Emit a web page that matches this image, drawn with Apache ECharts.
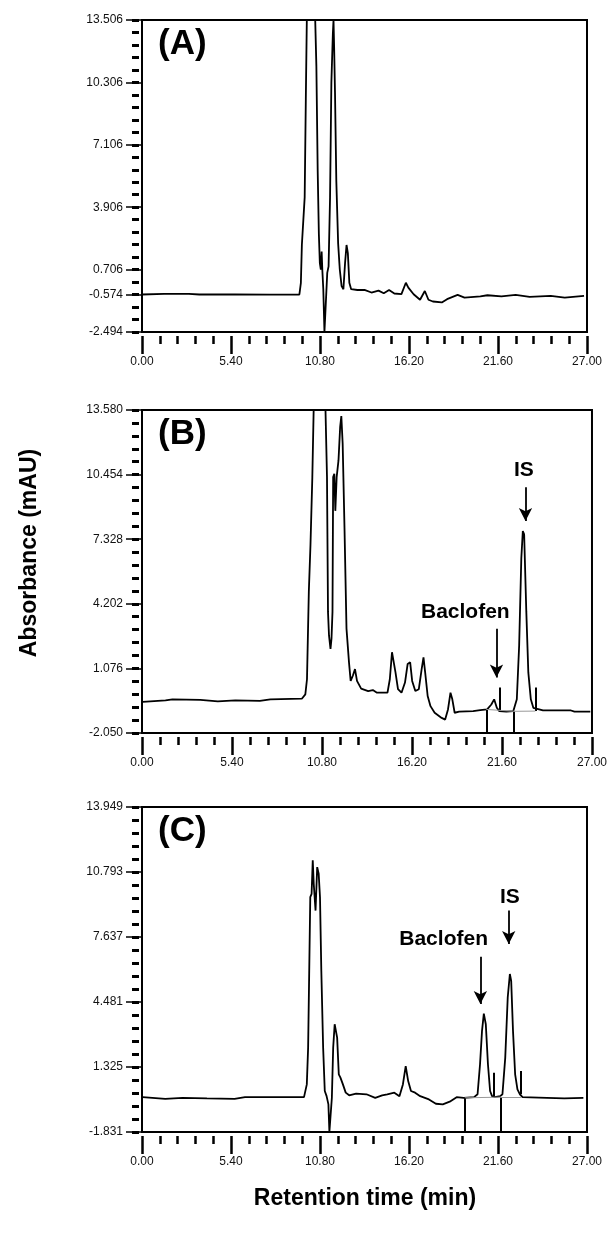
<!DOCTYPE html>
<html><head><meta charset="utf-8">
<script src="https://cdn.jsdelivr.net/npm/echarts@6/dist/echarts.min.js"></script>
<style>html,body{margin:0;padding:0;background:#fff}#c{width:610px;height:1247px}</style>
</head><body><div id="c"></div>
<script>
// ---- data (retention time [min], absorbance [mAU]) ----
const traceA = [[0.00,-0.57],[1.34,-0.54],[2.84,-0.54],[3.48,-0.57],[5.61,-0.57],[7.74,-0.58],[9.55,-0.57],[9.64,0.03],[9.70,1.97],[9.81,2.05],[9.87,4.41],[9.94,9.46],[10.00,13.5],[10.51,13.5],[10.58,11.14],[10.66,5.76],[10.73,2.56],[10.79,1.04],[10.85,0.71],[10.90,1.63],[10.94,0.71],[11.00,-0.30],[11.07,-2.494],[11.17,-2.494],[11.24,0.54],[11.32,0.87],[11.41,4.41],[11.49,10.30],[11.58,12.8],[11.62,13.5],[11.66,12.0],[11.71,9.80],[11.79,5.25],[11.90,2.05],[12.00,0.71],[12.11,-0.14],[12.22,-0.30],[12.32,1.04],[12.41,1.97],[12.49,1.55],[12.58,0.03],[12.69,-0.30],[13.07,-0.34],[13.50,-0.33],[13.92,-0.47],[14.35,-0.37],[14.67,-0.51],[14.99,-0.34],[15.31,-0.52],[15.74,-0.55],[16.01,0.03],[16.16,-0.22],[16.48,-0.56],[16.87,-0.84],[17.16,-0.39],[17.38,-0.84],[17.65,-0.93],[18.19,-0.98],[18.51,-0.81],[19.15,-0.59],[19.57,-0.73],[20.53,-0.67],[20.96,-0.61],[21.81,-0.67],[22.67,-0.59],[23.52,-0.69],[24.80,-0.64],[25.65,-0.73],[26.82,-0.64]];
const traceB = [[0.04,-0.54],[1.41,-0.47],[1.83,-0.42],[3.50,-0.45],[4.55,-0.52],[5.60,-0.47],[7.07,-0.50],[7.70,-0.42],[9.59,-0.39],[9.80,-0.18],[9.90,0.55],[10.01,4.79],[10.11,7.07],[10.22,10.33],[10.30,13.58],[11.01,13.58],[11.10,10.33],[11.16,3.81],[11.22,2.67],[11.31,2.02],[11.37,2.51],[11.43,3.81],[11.47,10.33],[11.54,10.49],[11.60,8.70],[11.68,10.33],[11.79,11.14],[11.89,12.77],[11.96,13.29],[12.04,11.96],[12.15,7.88],[12.27,3.00],[12.42,1.37],[12.52,0.47],[12.65,0.72],[12.78,1.04],[12.90,0.47],[13.15,0.10],[13.57,-0.02],[13.85,0.03],[14.10,-0.10],[14.73,-0.10],[14.87,0.55],[15.00,1.86],[15.08,1.78],[15.21,0.88],[15.36,0.07],[15.57,-0.10],[15.78,0.39],[15.94,1.29],[16.09,1.37],[16.21,0.47],[16.40,-0.02],[16.61,0.07],[16.78,1.04],[16.89,1.61],[16.99,0.88],[17.14,-0.26],[17.31,-0.75],[17.56,-1.07],[17.98,-1.32],[18.19,-1.40],[18.36,-0.91],[18.51,-0.10],[18.62,-0.42],[18.76,-1.07],[19.03,-1.02],[19.87,-0.99],[20.29,-0.94],[20.71,-0.91],[20.96,-0.67],[21.13,-0.42],[21.29,-0.83],[21.44,-0.99],[21.86,-1.02],[22.28,-0.99],[22.49,-0.42],[22.63,2.18],[22.76,6.42],[22.85,7.72],[22.93,7.56],[23.06,3.81],[23.18,0.88],[23.33,-0.42],[23.48,-0.83],[24.06,-0.96],[25.74,-0.96],[25.95,-1.02],[26.90,-1.02]];
const traceC = [[0.04,-0.14],[1.41,-0.22],[2.46,-0.17],[3.94,-0.20],[5.62,-0.22],[6.25,-0.14],[7.73,-0.14],[9.83,-0.14],[10.00,0.48],[10.08,2.27],[10.21,9.57],[10.29,9.73],[10.36,11.36],[10.42,10.22],[10.53,8.92],[10.63,11.03],[10.72,10.71],[10.80,9.57],[10.88,6.00],[10.99,2.27],[11.09,0.16],[11.20,-0.09],[11.31,-0.49],[11.37,-1.831],[11.43,-1.831],[11.52,-0.17],[11.60,2.27],[11.69,3.40],[11.75,3.48],[11.84,2.75],[11.94,0.97],[12.04,0.81],[12.19,0.48],[12.36,0.08],[12.57,-0.05],[12.99,0.03],[13.62,0.00],[14.15,-0.17],[14.57,-0.05],[14.88,0.00],[15.31,0.08],[15.62,-0.09],[15.83,0.48],[16.00,1.37],[16.15,0.64],[16.32,0.16],[16.57,0.08],[16.88,-0.09],[17.41,-0.25],[17.83,-0.46],[18.25,-0.49],[18.67,-0.36],[19.09,-0.14],[19.52,-0.17],[20.15,-0.14],[20.36,0.00],[20.51,1.46],[20.63,3.08],[20.74,3.92],[20.86,3.40],[20.99,1.46],[21.12,0.16],[21.24,-0.09],[21.41,-0.14],[21.73,-0.09],[21.87,0.00],[22.04,1.78],[22.19,4.70],[22.32,5.84],[22.40,5.51],[22.51,3.08],[22.64,0.97],[22.78,0.24],[22.93,0.00],[23.09,-0.14],[24.57,-0.17],[25.62,-0.20],[26.78,-0.17]];

// y tick labels of each panel
const yLabelsA = [13.506, 10.306, 7.106, 3.906, 0.706, -0.574, -2.494];
const yLabelsB = [13.580, 10.454, 7.328, 4.202, 1.076, -2.050];
const yLabelsC = [13.949, 10.793, 7.637, 4.481, 1.325, -1.831];
const xLabels = [0.00, 5.40, 10.80, 16.20, 21.60, 27.00];

// integration marks [time, from, to]
const intMarksB = [[20.66,-0.91,-2.05],[21.44,0.15,-0.99],[22.32,-1.00,-2.05],[23.60,0.15,-0.99]];
const intMarksC = [[19.58,-0.17,-1.831],[21.37,1.05,-0.09],[21.79,-0.14,-1.831],[22.99,1.13,0.00]];
// peak baselines [t1, v1, t2, v2]
const baseLinesB = [[20.66,-0.91,22.32,-1.00],[22.32,-1.00,23.60,-0.99]];
const baseLinesC = [[19.58,-0.17,21.79,-0.14],[21.79,-0.14,22.99,-0.14]];

// annotations
const notesB = [{text:'Baclofen', t:19.40, v:3.80}, {text:'IS', t:22.91, v:10.65}];
const arrowsB = [[21.27, 3.0, 0.64], [23.01, 9.84, 8.21]];
const notesC = [{text:'Baclofen', t:18.30, v:7.54}, {text:'IS', t:22.32, v:9.57}];
const arrowsC = [[20.53, 6.68, 4.38], [22.25, 8.92, 7.30]];

// ---- layout ----
const FONT = 'Liberation Sans, Arial, sans-serif';
const panels = [
  {name:'(A)', trace:traceA, yMin:-2.494, yMax:13.506, yStep:0.64, yLabels:yLabelsA,
   grid:{left:142, top:20, width:445, height:312}, marks:[], base:[], notes:[], arrows:[]},
  {name:'(B)', trace:traceB, yMin:-2.050, yMax:13.580, yStep:0.6252, yLabels:yLabelsB,
   grid:{left:142, top:410, width:451, height:323}, marks:intMarksB, base:baseLinesB, notes:notesB, arrows:arrowsB},
  {name:'(C)', trace:traceC, yMin:-1.831, yMax:13.949, yStep:0.6312, yLabels:yLabelsC,
   grid:{left:142, top:807, width:445, height:325}, marks:intMarksC, base:baseLinesC, notes:notesC, arrows:arrowsC}
];

const xMinor = [];
for (let k = 0; k <= 25; k++) xMinor.push(+(k * 1.08).toFixed(2));

const grids = [], xAxes = [], yAxes = [], series = [], titles = [];
panels.forEach((p, i) => {
  grids.push(Object.assign({show:true, borderColor:'#000', borderWidth:2, backgroundColor:'transparent'}, p.grid));
  const yMinor = [];
  for (let k = 0; k <= 25; k++) yMinor.push(+(p.yMin + k * p.yStep).toFixed(4));
  xAxes.push({gridIndex:i, type:'value', min:0, max:27, position:'bottom', offset:4,
    axisLine:{show:false, onZero:false}, splitLine:{show:false}, axisLabel:{show:false},
    axisTick:{show:true, length:8, lineStyle:{color:'#000', width:2.5}, customValues:xMinor}});
  xAxes.push({gridIndex:i, type:'value', min:0, max:27, position:'bottom', offset:4,
    axisLine:{show:false, onZero:false}, splitLine:{show:false},
    axisTick:{show:true, length:18, lineStyle:{color:'#000', width:2.5}, customValues:xLabels},
    axisLabel:{show:true, customValues:xLabels, margin:20, formatter:v => v.toFixed(2),
      fontSize:12, color:'#111', fontFamily:FONT}});
  yAxes.push({gridIndex:i, type:'value', min:p.yMin, max:p.yMax, position:'left', offset:3,
    axisLine:{show:false, onZero:false}, splitLine:{show:false}, axisLabel:{show:false},
    axisTick:{show:true, length:7, lineStyle:{color:'#000', width:3}, customValues:yMinor}});
  yAxes.push({gridIndex:i, type:'value', min:p.yMin, max:p.yMax, position:'left', offset:0,
    axisLine:{show:false, onZero:false}, splitLine:{show:false},
    axisTick:{show:true, length:16, lineStyle:{color:'#000', width:1.5}, customValues:p.yLabels},
    axisLabel:{show:true, customValues:p.yLabels, margin:19, formatter:v => v.toFixed(3),
      fontSize:12, color:'#111', fontFamily:FONT}});

  const mlData = [];
  p.marks.forEach(m => mlData.push([{coord:[m[0], m[1]], symbol:'none', lineStyle:{color:'#000', width:2}}, {coord:[m[0], m[2]], symbol:'none'}]));
  p.base.forEach(b => mlData.push([{coord:[b[0], b[1]], symbol:'none', lineStyle:{color:'#999', width:1}}, {coord:[b[2], b[3]], symbol:'none'}]));
  p.arrows.forEach(a => mlData.push([{coord:[a[0], a[1]], symbol:'none', lineStyle:{color:'#000', width:1.8}}, {coord:[a[0], a[2]], symbol:'arrow', symbolSize:[10,13]}]));

  series.push({
    type:'line', xAxisIndex:2*i, yAxisIndex:2*i, data:p.trace, symbol:'none', showSymbol:false,
    lineStyle:{color:'#000', width:1.8}, clip:true, silent:true,
    markLine:{silent:true, animation:false, label:{show:false}, symbol:['none','none'],
      lineStyle:{type:'solid', color:'#000'}, emphasis:{disabled:true}, data:mlData},
    markPoint:{silent:true, animation:false, symbol:'rect', symbolSize:1, itemStyle:{color:'rgba(0,0,0,0)'},
      label:{show:true, position:'inside', color:'#000', fontSize:21, fontWeight:'bold', fontFamily:FONT},
      data:p.notes.map(n => ({coord:[n.t, n.v], value:n.text, label:{formatter:n.text}}))}
  });
  titles.push({text:p.name, left:p.grid.left + 11, top:p.grid.top + 2,
    textStyle:{fontSize:35, fontWeight:'bold', fontFamily:FONT, color:'#000'}});
});

const chart = echarts.init(document.getElementById('c'), null, {renderer:'canvas'});
chart.setOption({
  animation:false,
  backgroundColor:'#fff',
  title:titles,
  grid:grids, xAxis:xAxes, yAxis:yAxes, series:series,
  graphic:[
    {type:'text', x:30, y:553, rotation:Math.PI/2,
     style:{text:'Absorbance (mAU)', font:'bold 23px Liberation Sans, Arial, sans-serif', fill:'#000', align:'center', verticalAlign:'middle'}},
    {type:'text', x:365, y:1199,
     style:{text:'Retention time (min)', font:'bold 23px Liberation Sans, Arial, sans-serif', fill:'#000', align:'center', verticalAlign:'middle'}}
  ]
});
</script></body></html>
